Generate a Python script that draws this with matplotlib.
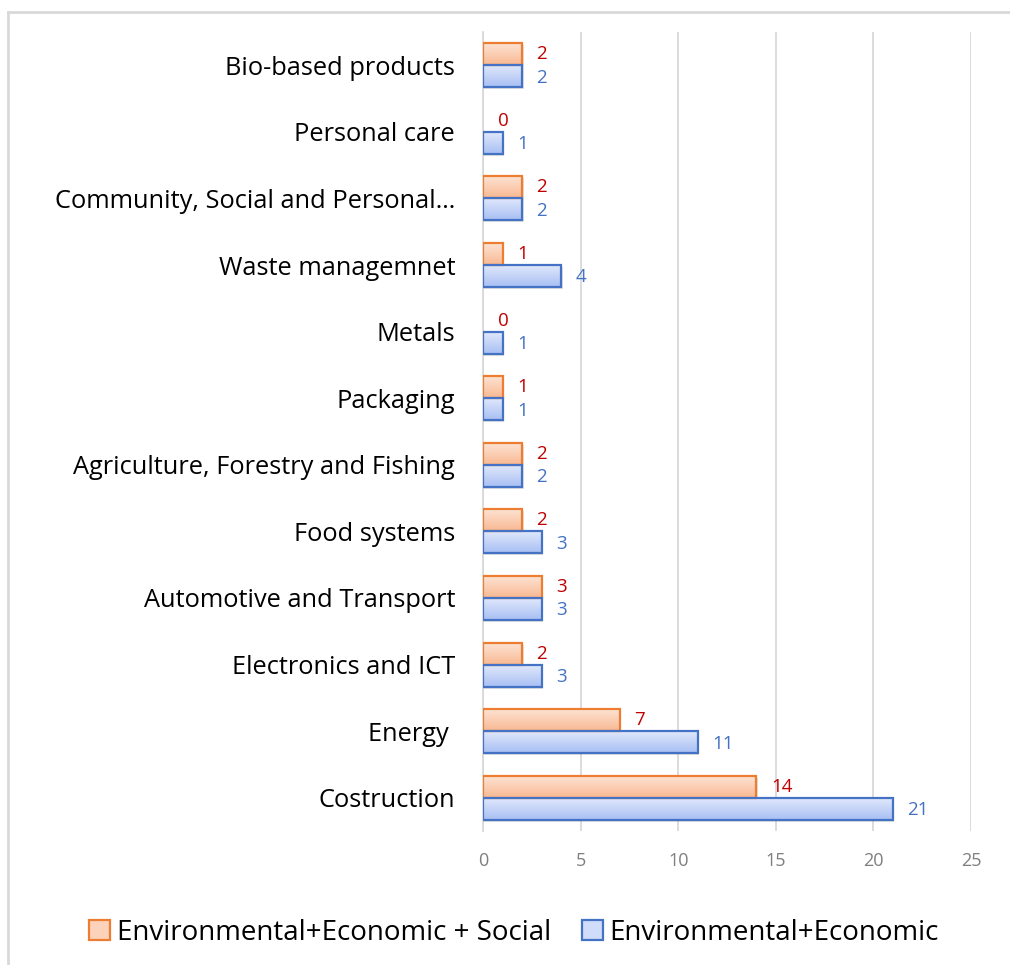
import numpy as np
import matplotlib
matplotlib.use("Agg")
import matplotlib.pyplot as plt
from matplotlib.patches import Rectangle
from matplotlib.colors import LinearSegmentedColormap

plt.rcParams['font.family'] = ['Open Sans', 'DejaVu Sans']

categories = ["Costruction", "Energy ", "Electronics and ICT", "Automotive and Transport",
              "Food systems", "Agriculture, Forestry and Fishing", "Packaging", "Metals",
              "Waste managemnet", "Community, Social and Personal\u2026", "Personal care",
              "Bio-based products"]
env_eco_soc = [14, 7, 2, 3, 2, 2, 1, 0, 1, 2, 0, 2]
env_eco = [21, 11, 3, 3, 3, 2, 1, 1, 4, 2, 1, 2]
xticks = [0, 5, 10, 15, 20, 25]
series_names = ["Environmental+Economic + Social", "Environmental+Economic"]

W, H = 1010, 965
fig = plt.figure(figsize=(W / 100, H / 100), dpi=100)
ax = fig.add_axes([483 / W, 1 - 831 / H, (971 - 483) / W, (831 - 32) / H])

y = np.arange(len(categories))
bh = 0.33
orange_edge = "#ed7d31"
blue_edge = "#4472c4"
cmap_o = LinearSegmentedColormap.from_list("o", ["#fde3d3", "#f9b893"])
cmap_b = LinearSegmentedColormap.from_list("b", ["#e0e8fb", "#a8bff4"])

bars_o = ax.barh(y + bh / 2, env_eco_soc, height=bh, color="#fbcbb0",
                 edgecolor=orange_edge, linewidth=1.6, zorder=3)
bars_b = ax.barh(y - bh / 2, env_eco, height=bh, color="#c3d3f8",
                 edgecolor=blue_edge, linewidth=1.6, zorder=3)

grad = np.linspace(0, 1, 64).reshape(-1, 1)
for bars, cmap in ((bars_o, cmap_o), (bars_b, cmap_b)):
    for p in bars:
        x0, y0 = p.get_x(), p.get_y()
        w, h = p.get_width(), p.get_height()
        if w <= 0:
            p.set_visible(False)
            continue
        sh = Rectangle((x0, y0 - 0.03), w + 0.08, h, facecolor="#000000", alpha=0.12,
                       edgecolor="none", zorder=2)
        ax.add_patch(sh)
        im = ax.imshow(grad, cmap=cmap, aspect="auto", extent=(x0, x0 + w, y0, y0 + h),
                       origin="upper", zorder=3.5, interpolation="bicubic")
        im.set_clip_path(p)
        p.set_facecolor("none")
        p.set_zorder(4)

for p, v in zip(bars_o, env_eco_soc):
    ax.annotate(str(v), (v, p.get_y() + p.get_height() / 2), xytext=(10.5, 0),
                textcoords="offset points", ha="left", va="center",
                color="#c00000", fontsize=13.5)
for p, v in zip(bars_b, env_eco):
    ax.annotate(str(v), (v, p.get_y() + p.get_height() / 2), xytext=(10.5, -1),
                textcoords="offset points", ha="left", va="center",
                color="#4472c4", fontsize=13.5)

ax.set_xlim(0, 25)
ax.set_ylim(-0.5, len(categories) - 0.5)
ax.set_xticks(xticks)
ax.set_xticklabels([str(t) for t in xticks], color="#7f7f7f", fontsize=13)
ax.set_yticks(y)
ax.set_yticklabels(categories, fontsize=18.3, color="black")
ax.tick_params(axis="both", length=0)
ax.tick_params(axis="x", pad=15)
ax.tick_params(axis="y", pad=20)
ax.grid(axis="x", color="#d9d9d9", linewidth=1.3, zorder=0)
ax.set_axisbelow(True)
for s in ["top", "right", "bottom"]:
    ax.spines[s].set_visible(False)
ax.spines["left"].set_color("#d9d9d9")
ax.spines["left"].set_linewidth(1.3)

h1 = Rectangle((0, 0), 1, 1, facecolor="#fcd2ba", edgecolor=orange_edge, linewidth=1.6)
h2 = Rectangle((0, 0), 1, 1, facecolor="#cfdcfa", edgecolor=blue_edge, linewidth=1.6)
fig.legend([h1, h2], series_names, loc="center", bbox_to_anchor=(514 / W, 1 - 933 / H),
           ncol=2, frameon=False, fontsize=20, handlelength=0.75, handleheight=0.75,
           handletextpad=0.25, columnspacing=1.1)

fig.add_artist(plt.Line2D([8 / W, 8 / W], [0, 1 - 12 / H], color="#d9d9d9", linewidth=2,
                          transform=fig.transFigure))
fig.add_artist(plt.Line2D([8 / W, 1], [1 - 12 / H, 1 - 12 / H], color="#d9d9d9", linewidth=2,
                          transform=fig.transFigure))

fig.savefig("out.png", dpi=100)
